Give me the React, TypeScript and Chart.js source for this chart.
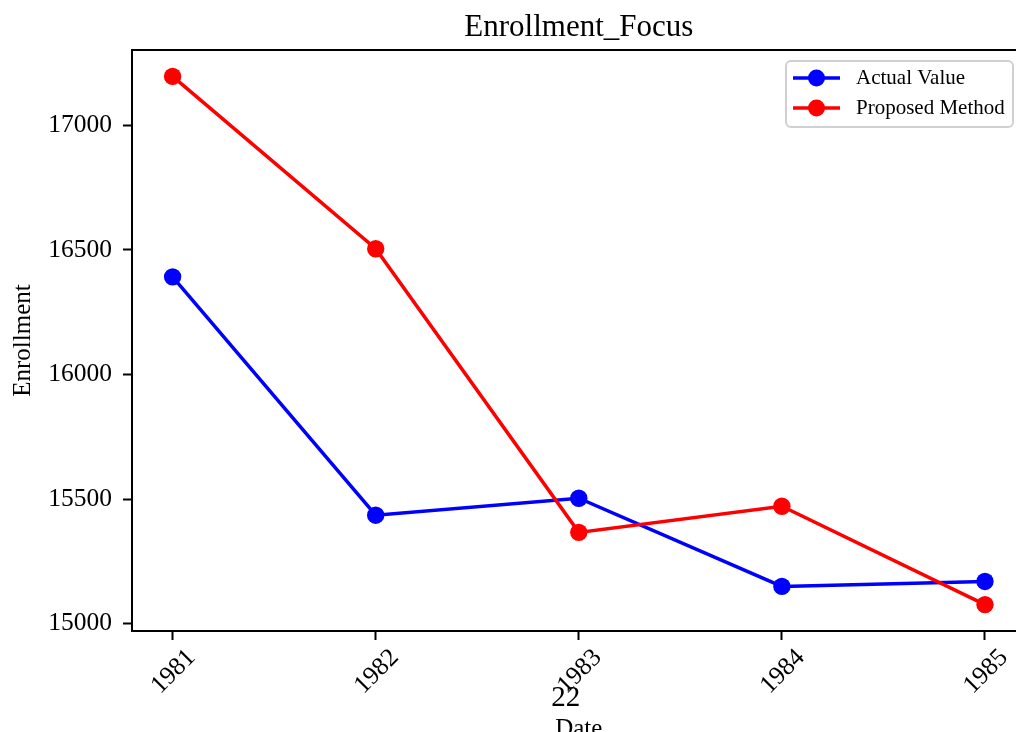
import { useEffect, useRef } from "react";
import { Chart, registerables } from "chart.js";

Chart.register(...registerables);

const years = [1981, 1982, 1983, 1984, 1985];
const actualValues = [16392, 15435, 15503, 15149, 15169];
const proposedValues = [17197, 16505, 15366, 15471, 15076];
const yTicks = [15000, 15500, 16000, 16500, 17000];
const seriesNames = ["Actual Value", "Proposed Method"];
const seriesColors = ["#0000ff", "#ff0000"];
const titleText = "Enrollment_Focus";
const xTitle = "Date";
const yTitle = "Enrollment";
const strayText = "22";

const FONT = '"Liberation Serif", "Times New Roman", Times, serif';
const CANVAS_W = 1060;
const CANVAS_H = 745;

const allY = [...actualValues, ...proposedValues];
const yMinData = Math.min(...allY);
const yMaxData = Math.max(...allY);
const yPad = (yMaxData - yMinData) * 0.05;
const xPad = (years[years.length - 1] - years[0]) * 0.05;

const framePlugin = {
  id: "frame",
  afterDraw(chart: any) {
    const { ctx, chartArea } = chart;
    const { left, right, top, bottom } = chartArea;
    ctx.save();
    // top and right spines
    ctx.strokeStyle = "#000";
    ctx.lineWidth = 2;
    ctx.beginPath();
    ctx.moveTo(left - 1, top);
    ctx.lineTo(right, top);
    ctx.lineTo(right, bottom);
    ctx.stroke();

    // stray "22" text
    const xs = chart.scales.x;
    ctx.fillStyle = "#000";
    ctx.font = `29px ${FONT}`;
    ctx.textAlign = "center";
    ctx.textBaseline = "alphabetic";
    ctx.fillText(strayText, xs.getPixelForValue(1983) - 13, bottom + 75);

    // legend
    const boxW = 227;
    const boxH = 66;
    const bx = right - 12.6 - boxW;
    const by = top + 11;
    const r = 5;
    ctx.beginPath();
    ctx.moveTo(bx + r, by);
    ctx.lineTo(bx + boxW - r, by);
    ctx.arcTo(bx + boxW, by, bx + boxW, by + r, r);
    ctx.lineTo(bx + boxW, by + boxH - r);
    ctx.arcTo(bx + boxW, by + boxH, bx + boxW - r, by + boxH, r);
    ctx.lineTo(bx + r, by + boxH);
    ctx.arcTo(bx, by + boxH, bx, by + boxH - r, r);
    ctx.lineTo(bx, by + r);
    ctx.arcTo(bx, by, bx + r, by, r);
    ctx.closePath();
    ctx.fillStyle = "rgba(255,255,255,0.8)";
    ctx.fill();
    ctx.strokeStyle = "#d0d0d0";
    ctx.lineWidth = 2;
    ctx.stroke();

    seriesNames.forEach((name, i) => {
      const ry = by + 17 + i * 30;
      ctx.strokeStyle = seriesColors[i];
      ctx.lineWidth = 3.5;
      ctx.beginPath();
      ctx.moveTo(bx + 7, ry);
      ctx.lineTo(bx + 54, ry);
      ctx.stroke();
      ctx.fillStyle = seriesColors[i];
      ctx.beginPath();
      ctx.arc(bx + 30.5, ry, 8.5, 0, Math.PI * 2);
      ctx.fill();
      ctx.fillStyle = "#000";
      ctx.font = `21px ${FONT}`;
      ctx.textAlign = "left";
      ctx.textBaseline = "middle";
      ctx.fillText(name, bx + 70, ry);
    });
    ctx.restore();
  },
};

export default function App() {
  const canvasRef = useRef<HTMLCanvasElement | null>(null);

  useEffect(() => {
    if (!canvasRef.current) return;
    const seriesData = [actualValues, proposedValues];
    const chart = new Chart(canvasRef.current, {
      type: "line",
      data: {
        datasets: seriesData.map((vals, i) => ({
          label: seriesNames[i],
          data: years.map((yr, j) => ({ x: yr, y: vals[j] })),
          borderColor: seriesColors[i],
          backgroundColor: seriesColors[i],
          pointBackgroundColor: seriesColors[i],
          pointBorderColor: seriesColors[i],
          pointBorderWidth: 0,
          pointRadius: 8.7,
          borderWidth: 3.5,
          tension: 0,
          fill: false,
          order: seriesData.length - i,
        })),
      },
      options: {
        animation: false,
        responsive: false,
        maintainAspectRatio: false,
        layout: { padding: { top: 0, left: 0, right: 34.4, bottom: 0 } },
        plugins: {
          legend: { display: false },
          tooltip: { enabled: false },
          title: {
            display: true,
            text: titleText,
            fullSize: false,
            color: "#000",
            font: { family: FONT, size: 31, weight: "normal" as any, lineHeight: 1.2 },
            padding: { top: 9, bottom: 3.8 },
          },
        },
        scales: {
          x: {
            type: "linear",
            min: years[0] - xPad,
            max: years[years.length - 1] + xPad,
            afterBuildTicks: (scale: any) => {
              scale.ticks = years.map((v) => ({ value: v }));
            },
            afterFit: (scale: any) => {
              scale.height = CANVAS_H - 631;
            },
            border: { display: true, color: "#000", width: 2 },
            grid: {
              display: true,
              drawOnChartArea: false,
              drawTicks: true,
              tickLength: 9,
              tickWidth: 2,
              tickColor: "#000",
            },
            ticks: {
              autoSkip: false,
              minRotation: 45,
              maxRotation: 45,
              labelOffset: 19,
              padding: 3,
              color: "#000",
              font: { family: FONT, size: 25.5 },
              callback: (v: any) => String(v),
            },
            title: {
              display: true,
              text: xTitle,
              color: "#000",
              font: { family: FONT, size: 25 },
              padding: { top: 0, bottom: 1 },
            },
          },
          y: {
            type: "linear",
            min: yMinData - yPad,
            max: yMaxData + yPad,
            afterBuildTicks: (scale: any) => {
              scale.ticks = yTicks.map((v) => ({ value: v }));
            },
            afterFit: (scale: any) => {
              scale.width = 132;
            },
            border: { display: true, color: "#000", width: 2 },
            grid: {
              display: true,
              drawOnChartArea: false,
              drawTicks: true,
              tickLength: 9,
              tickWidth: 2,
              tickColor: "#000",
            },
            ticks: {
              padding: 11,
              color: "#000",
              font: { family: FONT, size: 25.5 },
              callback: (v: any) => String(v),
            },
            title: {
              display: true,
              text: yTitle,
              color: "#000",
              font: { family: FONT, size: 25 },
              padding: { top: 8, bottom: 0 },
            },
          },
        },
      } as any,
      plugins: [framePlugin],
    });
    return () => chart.destroy();
  }, []);

  return (
    <div
      style={{
        position: "fixed",
        left: 0,
        top: 0,
        width: 1016,
        height: 732,
        overflow: "hidden",
        background: "#fff",
      }}
    >
      <canvas
        ref={canvasRef}
        width={CANVAS_W}
        height={CANVAS_H}
        style={{ width: CANVAS_W, height: CANVAS_H, display: "block" }}
      />
    </div>
  );
}
